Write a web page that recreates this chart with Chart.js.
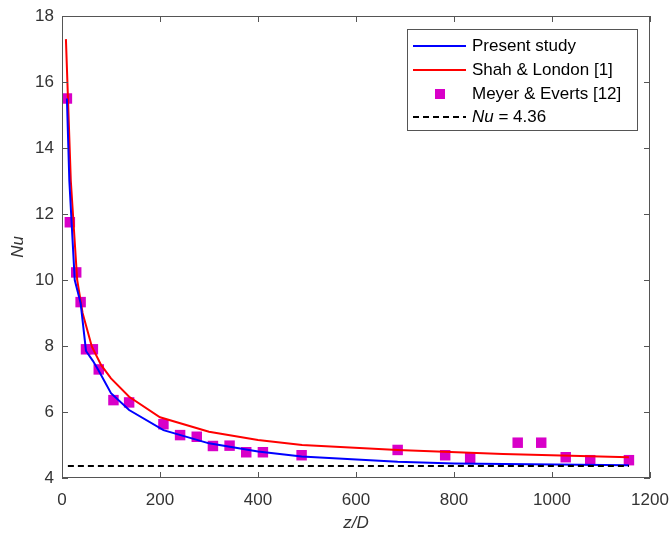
<!DOCTYPE html>
<html lang="en">
<head>
  <meta charset="UTF-8" />
  <title>Nu vs z/D</title>
  <script src="https://cdn.jsdelivr.net/npm/chart.js"></script>
  <style>
    html, body { margin: 0; padding: 0; background: #fff; }
    #wrap { width: 671px; height: 534px; }
  </style>
</head>
<body>
  <div id="wrap"><canvas id="chart" width="671" height="534"></canvas></div>

  <script>
    // Meyer & Everts [12] experimental points
    const expZ  = [10, 16, 29, 38, 49, 63, 75, 105, 137, 207, 241, 275, 308, 342, 376, 410, 489, 685, 782, 833, 930, 978, 1028, 1078, 1157];
    const expNu = [15.5, 11.75, 10.23, 9.33, 7.9, 7.9, 7.29, 6.36, 6.29, 5.63, 5.30, 5.25, 4.97, 4.98, 4.78, 4.78, 4.69, 4.85, 4.69, 4.61, 5.07, 5.07, 4.63, 4.54, 4.54];

    // Present study
    const presZ  = [10, 15, 26, 38, 49, 63, 75, 100, 137, 207, 300, 400, 489, 685, 800, 1157];
    const presNu = [15.5, 13.0, 10.0, 9.3, 7.85, 7.55, 7.25, 6.57, 6.06, 5.45, 5.05, 4.80, 4.65, 4.49, 4.44, 4.39];

    // Shah & London [1]
    const shahZ  = [8, 18, 31, 42, 61, 80, 100, 137, 200, 300, 400, 490, 685, 900, 1157];
    const shahNu = [17.3, 13.0, 10.0, 9.0, 7.98, 7.42, 7.02, 6.46, 5.84, 5.40, 5.15, 5.0, 4.85, 4.73, 4.63];

    // fully developed Nu = 4.36
    const fdZ  = [12, 1157];
    const fdNu = [4.36, 4.36];

    const xTicks = [0, 200, 400, 600, 800, 1000, 1200];
    const yTicks = [4, 6, 8, 10, 12, 14, 16, 18];

    const FONT = "'Liberation Sans', Arial, sans-serif";
    const pts = (xs, ys) => xs.map((x, i) => ({ x, y: ys[i] }));

    // box, inward ticks on all sides, legend inside the axes
    const matlabBox = {
      id: 'matlabBox',
      afterDraw(chart) {
        const ctx = chart.ctx;
        const { left, right, top, bottom } = chart.chartArea;
        const xs = chart.scales.x, ys = chart.scales.y;
        ctx.save();
        ctx.strokeStyle = '#555';
        ctx.lineWidth = 1;
        ctx.strokeRect(left + 0.5, top + 0.5, right - left - 1, bottom - top - 1);
        ctx.beginPath();
        xTicks.forEach(v => {
          const px = Math.round(xs.getPixelForValue(v)) + 0.5;
          ctx.moveTo(px, bottom); ctx.lineTo(px, bottom - 6);
          ctx.moveTo(px, top); ctx.lineTo(px, top + 6);
        });
        yTicks.forEach(v => {
          const py = Math.round(ys.getPixelForValue(v)) + 0.5;
          ctx.moveTo(left, py); ctx.lineTo(left + 6, py);
          ctx.moveTo(right, py); ctx.lineTo(right - 6, py);
        });
        ctx.stroke();

        // legend
        const bx = 407, by = 29, bw = 230, bh = 101;
        ctx.fillStyle = '#fff';
        ctx.fillRect(bx, by, bw, bh);
        ctx.strokeStyle = '#555';
        ctx.strokeRect(bx + 0.5, by + 0.5, bw, bh);
        const rows = [46, 70, 94, 117];
        const x0 = 413, x1 = 466, tx = 472;
        ctx.lineWidth = 2;
        ctx.strokeStyle = '#0000ff';
        ctx.beginPath(); ctx.moveTo(x0, rows[0]); ctx.lineTo(x1, rows[0]); ctx.stroke();
        ctx.strokeStyle = '#ff0000';
        ctx.beginPath(); ctx.moveTo(x0, rows[1]); ctx.lineTo(x1, rows[1]); ctx.stroke();
        ctx.fillStyle = '#d800c8';
        ctx.fillRect(435, rows[2] - 5, 10, 10);
        ctx.strokeStyle = '#000';
        ctx.setLineDash([6, 4]);
        ctx.beginPath(); ctx.moveTo(x0, rows[3]); ctx.lineTo(x1, rows[3]); ctx.stroke();
        ctx.setLineDash([]);

        ctx.fillStyle = '#000';
        ctx.textBaseline = 'middle';
        ctx.textAlign = 'left';
        ctx.font = '17px ' + FONT;
        ctx.fillText('Present study', tx, rows[0]);
        ctx.fillText('Shah & London [1]', tx, rows[1]);
        ctx.fillText('Meyer & Everts [12]', tx, rows[2]);
        ctx.font = 'italic 17px ' + FONT;
        ctx.fillText('Nu', tx, rows[3]);
        const w = ctx.measureText('Nu').width;
        ctx.font = '17px ' + FONT;
        ctx.fillText(' = 4.36', tx + w, rows[3]);
        ctx.restore();
      }
    };

    new Chart(document.getElementById('chart').getContext('2d'), {
      type: 'scatter',
      data: {
        datasets: [
          {
            label: 'Nu = 4.36',
            data: pts(fdZ, fdNu),
            showLine: true,
            borderColor: '#000',
            borderWidth: 2,
            borderDash: [6, 4],
            pointRadius: 0
          },
          {
            label: 'Present study',
            data: pts(presZ, presNu),
            showLine: true,
            borderColor: '#0000ff',
            borderWidth: 2,
            pointRadius: 0
          },
          {
            label: 'Shah & London [1]',
            data: pts(shahZ, shahNu),
            showLine: true,
            borderColor: '#ff0000',
            borderWidth: 2,
            pointRadius: 0
          },
          {
            label: 'Meyer & Everts [12]',
            data: pts(expZ, expNu),
            showLine: false,
            pointStyle: 'rect',
            pointRadius: 7.4,
            pointBorderWidth: 0,
            backgroundColor: '#d800c8',
            borderColor: '#d800c8'
          }
        ]
      },
      options: {
        responsive: false,
        animation: false,
        layout: { padding: { top: 16, right: 21, left: 0, bottom: 0 } },
        plugins: { legend: { display: false }, tooltip: { enabled: false } },
        scales: {
          x: {
            type: 'linear',
            min: 0, max: 1200,
            afterFit: s => { s.height = 56; s.paddingLeft = 0; s.paddingRight = 0; },
            afterBuildTicks: s => { s.ticks = xTicks.map(v => ({ value: v })); },
            grid: { display: false, drawTicks: false },
            border: { display: false },
            ticks: { color: '#333', padding: 12, maxRotation: 0, callback: v => String(v), font: { family: FONT, size: 17 } },
            title: { display: true, text: 'z/D', color: '#333', padding: { top: 0, bottom: 1 }, font: { family: FONT, size: 17, style: 'italic' } }
          },
          y: {
            min: 4, max: 18,
            afterFit: s => { s.width = 62; s.paddingTop = 0; s.paddingBottom = 0; },
            afterBuildTicks: s => { s.ticks = yTicks.map(v => ({ value: v })); },
            grid: { display: false, drawTicks: false },
            border: { display: false },
            ticks: { color: '#333', padding: 8, callback: v => String(v), font: { family: FONT, size: 17 } },
            title: { display: true, text: 'Nu', color: '#333', padding: { top: 8, bottom: 0 }, font: { family: FONT, size: 17, style: 'italic' } }
          }
        }
      },
      plugins: [matlabBox]
    });
  </script>
</body>
</html>
